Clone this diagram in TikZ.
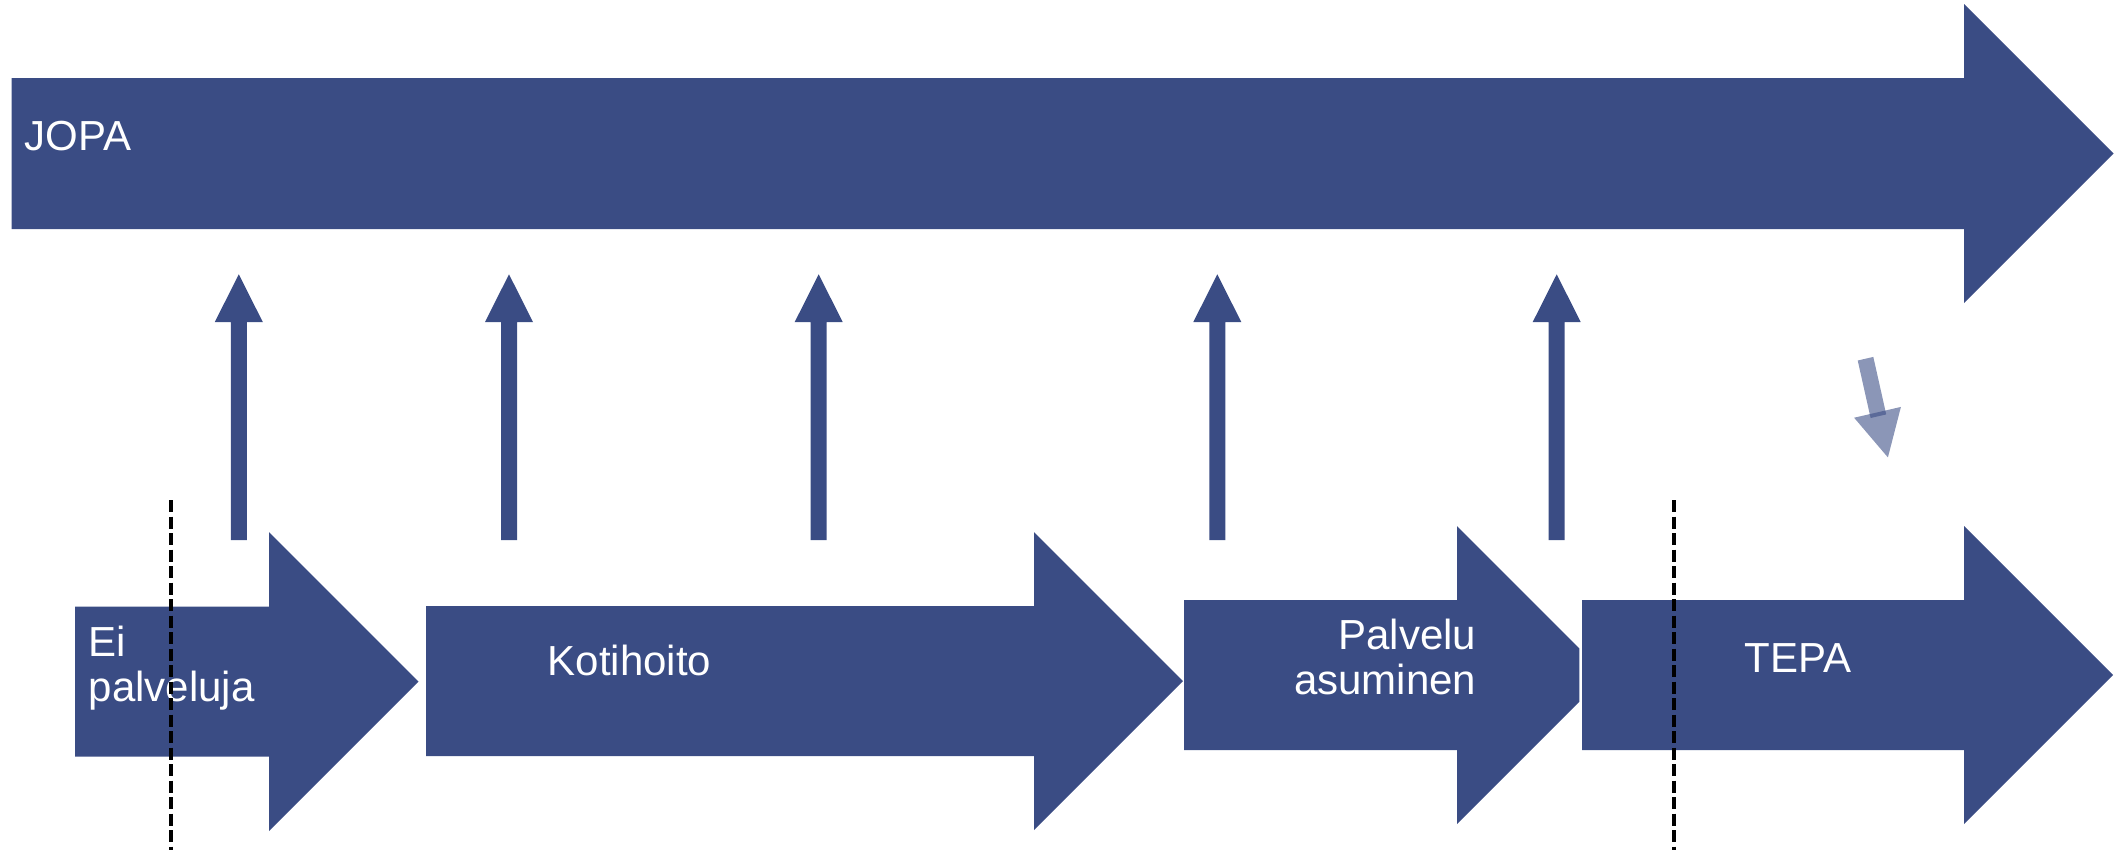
\documentclass[tikz,border=0pt]{standalone}
\usepackage{fontspec}
\setmainfont{Liberation Sans}
\definecolor{jopablue}{RGB}{58,76,132}
\tikzset{
  lohko/.style={fill=jopablue},
  teksti/.style={text=white,inner sep=0pt,font=\fontsize{11.95}{12.8}\selectfont},
  raja/.style={black,line width=1.35pt,dash pattern=on 0.12cm off 0.045cm}
}
\begin{document}
\begin{tikzpicture}[x=0.01cm,y=-0.01cm]
  \useasboundingbox (0,0) rectangle (2115,850);
  % JOPA
  \fill[lohko] (11.7,78) -- (1964,78) -- (1964,4) -- (2113.5,153.5) -- (1964,303) -- (1964,229) -- (11.7,229) -- cycle;
  \node[teksti,anchor=base west] (jopa) at (24,150) {JOPA};
  % nuolet ylos
  \foreach \x in {238.8,509,818.7,1217.3,1556.7}
  \fill[lohko] (\x-8,540) -- (\x-8,322) -- (\x-24,322) -- (\x,274.3) -- (\x+24,322) -- (\x+8,322) -- (\x+8,540) -- cycle;
  % vino nuoli (laapinakyva)
  \fill[lohko,fill opacity=0.59] (1857.7,360.5) -- (1873.3,356.9) -- (1886.2,414.4) -- (1870.6,418.0) -- cycle;
  \fill[lohko,fill opacity=0.59] (1854.1,417.7) -- (1900.9,406.9) -- (1887.9,457.4) -- cycle;
  % palvelujen vaiheet
  \fill[lohko] (75,606.7) -- (269,606.7) -- (269,532) -- (418.5,681.5) -- (269,831) -- (269,756.7) -- (75,756.7) -- cycle;
  \fill[lohko] (426,606) -- (1034,606) -- (1034,532) -- (1183,681) -- (1034,830) -- (1034,756) -- (426,756) -- cycle;
  \fill[lohko] (1184,600) -- (1457,600) -- (1457,526) -- (1579.3,648.3) -- (1579.3,701.7) -- (1457,824) -- (1457,750) -- (1184,750) -- cycle;
  \fill[lohko] (1582,600) -- (1964,600) -- (1964,526) -- (2113,675) -- (1964,824) -- (1964,750) -- (1582,750) -- cycle;
  \node[teksti,anchor=base west,align=left] (ei) at (88,701) {Ei\\palveluja};
  \node[teksti,anchor=base west] (koti) at (547,675.7) {Kotihoito};
  \node[teksti,anchor=base east,align=right] (asum) at (1477,694) {Palvelu\\asuminen};
  \node[teksti,anchor=base west] (tepa) at (1744,672) {TEPA};
  % katkoviivat
  \draw[raja] (171,500) -- (171,850);
  \draw[raja] (1674,500) -- (1674,850);
\end{tikzpicture}
\end{document}
